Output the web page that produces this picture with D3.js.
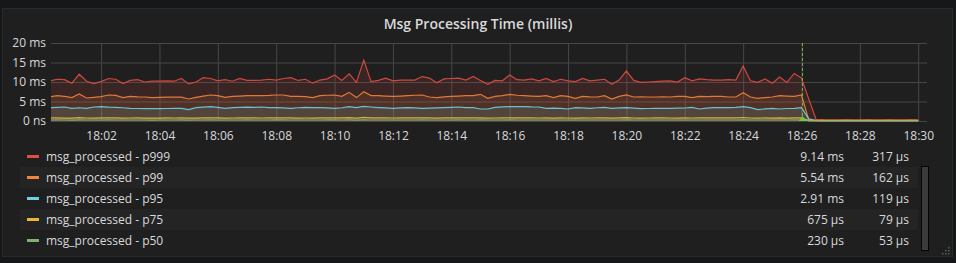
<!DOCTYPE html>
<html>
<head>
<meta charset="utf-8">
<script src="https://cdn.jsdelivr.net/npm/d3@7"></script>
<style>
html, body { margin: 0; padding: 0; background: #161719; }
svg { display: block; font-family: "Open Sans", sans-serif; }
</style>
</head>
<body>
<div id="chart"></div>
<script>
// series, in draw order (p999 first, p50 on top)
var seriesNames = ["msg_processed - p999", "msg_processed - p99", "msg_processed - p95",
  "msg_processed - p75", "msg_processed - p50"];
var seriesColors = ["#e24d42", "#ef843c", "#6ed0e0", "#eab839", "#7eb26d"];

// values in ms, one every 15s from 18:00:15 to 18:30:00
var p999 = [10.3,10.7,10.6,9.7,12.0,10.2,9.6,10.1,10.9,10.7,
  9.6,10.4,10.6,10.0,10.2,10.2,10.3,10.2,10.9,9.5,
  10.0,11.1,10.9,10.3,10.6,10.2,10.9,10.4,10.4,10.5,
  10.7,10.5,10.9,11.1,10.4,10.7,9.7,10.5,10.8,11.8,
  10.4,12.1,9.9,15.6,10.1,10.4,11.0,10.3,10.5,10.5,
  10.5,11.4,11.0,9.8,10.8,10.9,11.0,10.5,11.4,10.4,
  9.4,10.4,10.3,11.8,10.6,10.5,10.8,10.3,10.9,10.1,
  10.7,10.3,10.1,10.9,10.3,10.5,10.7,9.4,10.5,12.8,
  10.4,9.9,10.0,10.1,10.2,10.3,10.0,11.1,10.3,10.8,
  10.6,10.5,10.5,10.6,10.5,14.1,10.3,9.9,10.8,9.7,
  11.3,9.9,12.2,11.0,5.6,0.42,0.33,0.31,0.32,0.34,
  0.30,0.32,0.33,0.31,0.32,0.35,0.31,0.32,0.33,0.32];
var p99 = [6.24,6.5,6.32,6.0,6.92,5.9,6.05,6.24,6.67,6.58,
  6.0,6.32,6.2,6.15,6.0,6.07,6.1,6.15,6.1,5.64,
  6.07,6.4,6.67,6.5,6.07,6.32,6.4,6.5,6.5,6.5,
  6.55,6.67,6.67,6.32,6.3,6.24,6.0,6.5,6.6,6.67,
  6.32,7.35,6.0,7.5,6.5,6.5,6.4,6.32,6.4,6.5,
  6.6,6.67,6.15,6.0,6.2,6.32,6.4,6.5,6.5,6.84,
  5.8,6.32,6.5,6.84,6.6,6.5,6.4,6.32,6.5,6.0,
  6.5,6.32,5.8,6.32,6.2,6.15,6.5,5.64,6.3,6.67,
  6.15,6.2,6.15,6.15,6.2,6.15,6.32,6.32,6.0,6.32,
  6.24,6.3,6.32,6.15,6.15,7.25,6.15,5.8,6.0,6.15,
  6.5,6.4,6.32,6.67,0.3,0.18,0.16,0.17,0.16,0.15,
  0.16,0.17,0.16,0.16,0.15,0.17,0.16,0.16,0.17,0.16];
var p95 = [3.42,3.5,3.59,3.25,3.4,3.25,3.59,3.68,3.55,3.5,
  3.4,3.25,3.2,3.16,3.2,3.16,3.2,3.22,3.25,2.9,
  3.42,3.55,3.68,3.5,3.25,3.42,3.5,3.55,3.5,3.59,
  3.45,3.42,3.35,3.25,3.4,3.5,3.45,3.42,3.35,3.25,
  3.4,3.68,3.42,3.76,3.59,3.45,3.35,3.25,3.35,3.42,
  3.35,3.25,3.3,3.35,3.42,3.5,3.59,3.45,3.42,3.08,
  3.08,3.5,3.6,3.68,3.68,3.68,3.6,3.59,3.25,3.3,
  3.25,3.08,3.42,3.35,3.25,3.4,3.5,3.25,3.35,3.42,
  3.3,3.16,3.2,3.25,3.25,3.25,3.28,3.33,3.5,3.08,
  3.3,3.42,3.42,3.42,3.5,3.68,3.42,2.9,3.1,3.25,
  3.08,3.2,3.25,3.42,0.55,0.13,0.12,0.12,0.12,0.11,
  0.12,0.12,0.12,0.11,0.12,0.12,0.12,0.12,0.12,0.12];
var p75 = [0.78,0.8,0.76,0.74,0.85,0.77,0.75,0.79,0.82,0.78,
  0.75,0.77,0.79,0.76,0.74,0.76,0.78,0.77,0.8,0.72,
  0.76,0.79,0.81,0.78,0.75,0.77,0.79,0.8,0.78,0.77,
  0.79,0.8,0.82,0.78,0.76,0.77,0.74,0.78,0.8,0.83,
  0.78,0.86,0.75,0.95,0.79,0.78,0.8,0.77,0.78,0.79,
  0.78,0.82,0.8,0.75,0.78,0.79,0.8,0.78,0.79,0.81,
  0.74,0.77,0.79,0.83,0.8,0.79,0.78,0.77,0.79,0.76,
  0.78,0.77,0.75,0.79,0.77,0.78,0.79,0.73,0.78,0.86,
  0.77,0.76,0.77,0.78,0.78,0.77,0.76,0.8,0.77,0.79,
  0.78,0.78,0.79,0.78,0.79,0.9,0.77,0.74,0.78,0.76,
  0.8,0.76,0.82,0.8,0.12,0.08,0.08,0.08,0.08,0.08,
  0.08,0.08,0.08,0.08,0.08,0.08,0.08,0.08,0.08,0.079];
var p50 = [0.26,0.27,0.26,0.25,0.29,0.26,0.25,0.26,0.27,0.26,
  0.25,0.26,0.26,0.25,0.25,0.26,0.26,0.26,0.27,0.24,
  0.25,0.26,0.27,0.26,0.25,0.26,0.26,0.27,0.26,0.26,
  0.26,0.27,0.27,0.26,0.26,0.26,0.25,0.26,0.27,0.27,
  0.26,0.28,0.25,0.31,0.26,0.26,0.26,0.26,0.26,0.26,
  0.26,0.27,0.26,0.25,0.26,0.26,0.27,0.26,0.26,0.27,
  0.25,0.26,0.26,0.27,0.26,0.26,0.26,0.26,0.26,0.25,
  0.26,0.26,0.25,0.26,0.26,0.26,0.26,0.25,0.26,0.28,
  0.26,0.25,0.26,0.26,0.26,0.26,0.25,0.26,0.26,0.26,
  0.26,0.26,0.26,0.26,0.26,0.29,0.26,0.25,0.26,0.25,
  0.26,0.25,0.27,0.26,0.06,0.05,0.05,0.05,0.05,0.05,
  0.053,0.053,0.053,0.053,0.053,0.053,0.053,0.053,0.053,0.053];

var legendAvg = ["9.14 ms", "5.54 ms", "2.91 ms", "675 µs", "230 µs"];
var legendCurrent = ["317 µs", "162 µs", "119 µs", "79 µs", "53 µs"];

var yTickValues = [0, 5, 10, 15, 20];
var yTickLabels = ["0 ns", "5 ms", "10 ms", "15 ms", "20 ms"];

var rangeFrom = new Date(Date.UTC(2017, 4, 10, 18, 0, 17));
var rangeTo = new Date(Date.UTC(2017, 4, 10, 18, 30, 18));
var firstPoint = new Date(Date.UTC(2017, 4, 10, 18, 0, 15));
var stepSeconds = 15;
var annotationTime = new Date(Date.UTC(2017, 4, 10, 18, 26, 0));

function Graph( attrs ) {
  'use strict';
  this.element = document.getElementById(attrs.id);
  this.width = 956;
  this.height = 263;
  this.plotBox = {left: 51, right: 927, top: 43, bottom: 121};

  this.x = d3.scaleUtc()
    .domain([rangeFrom, rangeTo])
    .range([this.plotBox.left, this.plotBox.right]);

  this.y = d3.scaleLinear()
    .domain([0, 20])
    .range([this.plotBox.bottom, this.plotBox.top]);

  this.svg = d3.select(this.element).append("svg")
  .attr("width", this.width)
  .attr("height", this.height);
}

Graph.prototype.series = function() {
  'use strict';
  var values = [p999, p99, p95, p75, p50];
  return values.map(function( vals, i ) {
    return {
      name: seriesNames[i],
      color: seriesColors[i],
      points: vals.map(function( v, j ) {
        return {t: d3.utcSecond.offset(firstPoint, j * stepSeconds), v: v};
      })
    };
  });
};

Graph.prototype.plot = function() {
  'use strict';
  var self = this;
  var box = this.plotBox;
  var grid = "#474747";

  // panel
  this.svg.append("rect")
  .attr("x", 2.5).attr("y", 8.5)
  .attr("width", 950).attr("height", 248)
  .attr("fill", "#1f1f20")
  .attr("stroke", "#2a2a2b");

  this.svg.append("text")
  .attr("x", 478).attr("y", 24)
  .attr("dy", "0.35em")
  .attr("text-anchor", "middle")
  .attr("fill", "#d8d9da")
  .style("font-size", "14px")
  .style("font-weight", 600)
  .text("Msg Processing Time (millis)");

  // y grid + labels
  var yAxis = d3.axisLeft(this.y)
    .tickValues(yTickValues)
    .tickFormat(function( d, i ) { return yTickLabels[i]; })
    .tickSize(-(box.right - box.left))
    .tickPadding(5);
  var gy = this.svg.append("g")
  .attr("transform", "translate(" + box.left + ",0)")
  .call(yAxis);

  // x grid + labels
  var xAxis = d3.axisBottom(this.x)
    .ticks(d3.utcMinute.every(2))
    .tickFormat(d3.utcFormat("%H:%M"))
    .tickSize(-(box.bottom - box.top))
    .tickPadding(10);
  var gx = this.svg.append("g")
  .attr("transform", "translate(0," + box.bottom + ")")
  .call(xAxis);

  [gx, gy].forEach(function( g ) {
    g.select(".domain").remove();
    g.selectAll(".tick line").attr("stroke", grid).attr("stroke-width", 1);
    g.selectAll(".tick text")
    .attr("fill", "#d8d9da")
    .style("font-size", "12px")
    .style("font-family", "'Open Sans', sans-serif");
  });

  this.svg.append("clipPath")
  .attr("id", "plot-clip")
  .append("rect")
  .attr("x", box.left).attr("y", box.top - 2)
  .attr("width", box.right - box.left)
  .attr("height", box.bottom - box.top + 3);

  var area = d3.area()
    .x(function( d ) { return self.x(d.t); })
    .y0(this.y(0))
    .y1(function( d ) { return self.y(d.v); });
  var line = d3.line()
    .x(function( d ) { return self.x(d.t); })
    .y(function( d ) { return self.y(d.v); });

  var plotG = this.svg.append("g").attr("clip-path", "url(#plot-clip)");
  var data = this.series();

  plotG.selectAll("path.fill")
  .data(data)
  .enter()
  .append("path")
  .attr("class", "fill")
  .attr("d", function( d ) { return area(d.points); })
  .attr("fill", function( d ) { return d.color; })
  .attr("fill-opacity", 0.13);

  plotG.selectAll("path.line")
  .data(data)
  .enter()
  .append("path")
  .attr("class", "line")
  .attr("d", function( d ) { return line(d.points); })
  .attr("fill", "none")
  .attr("stroke", function( d ) { return d.color; })
  .attr("stroke-opacity", 0.9)
  .attr("stroke-width", 1.2);

  // annotation
  var ax = Math.round(this.x(annotationTime)) + 0.5;
  this.svg.append("line")
  .attr("x1", ax).attr("x2", ax)
  .attr("y1", box.top).attr("y2", box.bottom)
  .attr("stroke", "#6cb83f")
  .attr("stroke-dasharray", "3,2");
  this.svg.append("path")
  .attr("d", "M" + (ax - 4) + "," + box.bottom + "L" + ax + "," + (box.bottom - 5) +
    "L" + (ax + 4) + "," + box.bottom + "Z")
  .attr("fill", "#6cc83f");

  this.legend(data);
};

Graph.prototype.legend = function( data ) {
  'use strict';
  var rowTop = 146;
  var rowH = 21;

  var rows = this.svg.selectAll("g.legend-row")
  .data(data)
  .enter()
  .append("g")
  .attr("class", "legend-row")
  .attr("transform", function( d, i ) {
    return "translate(0," + (rowTop + i * rowH) + ")";
  });

  rows.append("rect")
  .attr("x", 20).attr("y", 0)
  .attr("width", 898).attr("height", rowH)
  .attr("fill", function( d, i ) { return i % 2 ? "#242425" : "#1f1f20"; });

  rows.append("rect")
  .attr("x", 27).attr("y", rowH / 2 - 1.5)
  .attr("width", 12).attr("height", 3)
  .attr("fill", function( d ) { return d.color; });

  rows.append("text")
  .attr("x", 46).attr("y", rowH / 2)
  .attr("dy", "0.35em")
  .attr("fill", "#d8d9da")
  .style("font-size", "12px")
  .text(function( d ) { return d.name; });

  rows.append("text")
  .attr("x", 844).attr("y", rowH / 2)
  .attr("dy", "0.35em")
  .attr("text-anchor", "end")
  .attr("fill", "#d8d9da")
  .style("font-size", "12px")
  .text(function( d, i ) { return legendAvg[i]; });

  rows.append("text")
  .attr("x", 909).attr("y", rowH / 2)
  .attr("dy", "0.35em")
  .attr("text-anchor", "end")
  .attr("fill", "#d8d9da")
  .style("font-size", "12px")
  .text(function( d, i ) { return legendCurrent[i]; });

  // scrollbar + resize handle
  this.svg.append("rect")
  .attr("x", 921.5).attr("y", 166.5)
  .attr("width", 7).attr("height", 84)
  .attr("fill", "#3b3b3c")
  .attr("stroke", "#050505");

  var dots = [[948, 247], [945, 250], [948, 250], [942, 253], [945, 253], [948, 253]];
  this.svg.selectAll("rect.grip")
  .data(dots)
  .enter()
  .append("rect")
  .attr("class", "grip")
  .attr("x", function( d ) { return d[0]; })
  .attr("y", function( d ) { return d[1]; })
  .attr("width", 1.5).attr("height", 1.5)
  .attr("fill", "#5a5a5a");
};

var graph = new Graph({id: "chart"});
graph.plot();
</script>
</body>
</html>
